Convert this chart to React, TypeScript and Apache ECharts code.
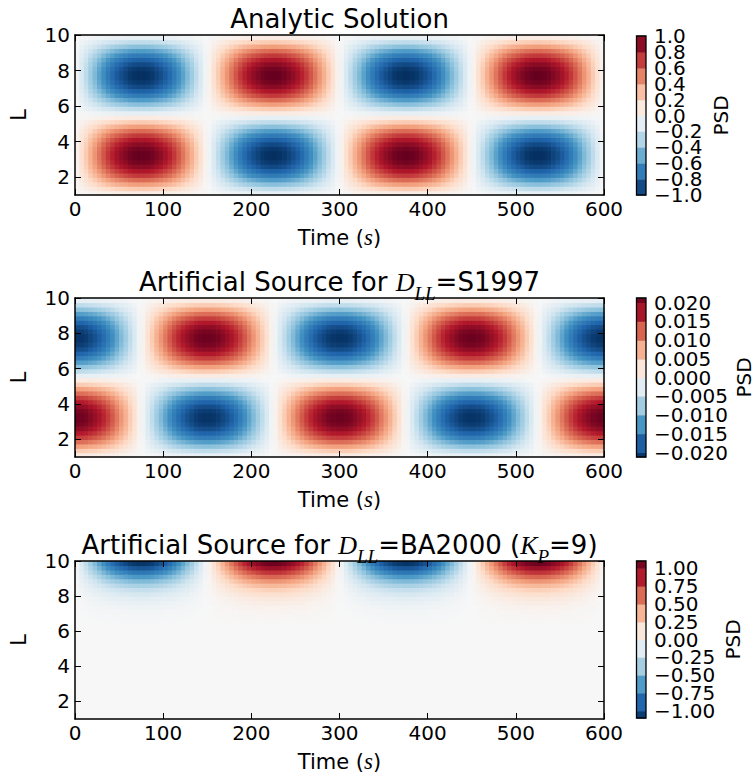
import React, { useEffect, useRef } from "react";
import * as echarts from "echarts";

// ---------------- data ----------------
const timeTicks = [0, 100, 200, 300, 400, 500, 600];
const lTicks = [2, 4, 6, 8, 10];
const timeRange = [0, 600];
const lRange = [1, 10];
const timeStep = 5; // width of one sampled cell, s
const lStep = 0.25; // height of one sampled cell, L

// time profile of the analytic solution (cell centres 2.5, 7.5, ..., 597.5 s)
const analyticTime = [
  0.05, 0.16, 0.26, 0.36, 0.45, 0.54, 0.63, 0.71, 0.78, 0.84, 0.89, 0.93, 0.97, 0.99, 1.00,
  1.00, 0.99, 0.97, 0.93, 0.89, 0.84, 0.78, 0.71, 0.63, 0.54, 0.45, 0.36, 0.26, 0.16, 0.05,
  -0.05, -0.16, -0.26, -0.36, -0.45, -0.54, -0.63, -0.71, -0.78, -0.84, -0.89, -0.93, -0.97, -0.99, -1.00,
  -1.00, -0.99, -0.97, -0.93, -0.89, -0.84, -0.78, -0.71, -0.63, -0.54, -0.45, -0.36, -0.26, -0.16, -0.05,
  0.05, 0.16, 0.26, 0.36, 0.45, 0.54, 0.63, 0.71, 0.78, 0.84, 0.89, 0.93, 0.97, 0.99, 1.00,
  1.00, 0.99, 0.97, 0.93, 0.89, 0.84, 0.78, 0.71, 0.63, 0.54, 0.45, 0.36, 0.26, 0.16, 0.05,
  -0.05, -0.16, -0.26, -0.36, -0.45, -0.54, -0.63, -0.71, -0.78, -0.84, -0.89, -0.93, -0.97, -0.99, -1.00,
  -1.00, -0.99, -0.97, -0.93, -0.89, -0.84, -0.78, -0.71, -0.63, -0.54, -0.45, -0.36, -0.26, -0.16, -0.05,
];
// time profile of the S1997 source
const sourceTime = [
  1.00, 0.99, 0.97, 0.93, 0.89, 0.84, 0.78, 0.71, 0.63, 0.54, 0.45, 0.36, 0.26, 0.16, 0.05,
  -0.05, -0.16, -0.26, -0.36, -0.45, -0.54, -0.63, -0.71, -0.78, -0.84, -0.89, -0.93, -0.97, -0.99, -1.00,
  -1.00, -0.99, -0.97, -0.93, -0.89, -0.84, -0.78, -0.71, -0.63, -0.54, -0.45, -0.36, -0.26, -0.16, -0.05,
  0.05, 0.16, 0.26, 0.36, 0.45, 0.54, 0.63, 0.71, 0.78, 0.84, 0.89, 0.93, 0.97, 0.99, 1.00,
  1.00, 0.99, 0.97, 0.93, 0.89, 0.84, 0.78, 0.71, 0.63, 0.54, 0.45, 0.36, 0.26, 0.16, 0.05,
  -0.05, -0.16, -0.26, -0.36, -0.45, -0.54, -0.63, -0.71, -0.78, -0.84, -0.89, -0.93, -0.97, -0.99, -1.00,
  -1.00, -0.99, -0.97, -0.93, -0.89, -0.84, -0.78, -0.71, -0.63, -0.54, -0.45, -0.36, -0.26, -0.16, -0.05,
  0.05, 0.16, 0.26, 0.36, 0.45, 0.54, 0.63, 0.71, 0.78, 0.84, 0.89, 0.93, 0.97, 0.99, 1.00,
];
// L profile (cell centres 1.125 ... 9.875, bottom to top)
const analyticL = [
  0.09, 0.26, 0.42, 0.57, 0.71, 0.82, 0.91, 0.97, 1.00, 1.00, 0.97, 0.91, 0.82, 0.71, 0.57, 0.42, 0.26, 0.09,
  -0.09, -0.26, -0.42, -0.57, -0.71, -0.82, -0.91, -0.97, -1.00, -1.00, -0.97, -0.91, -0.82, -0.71, -0.57, -0.42, -0.26, -0.09,
];
// L profile of the BA2000 source (concentrated near L = 10)
const edgeL = [
  0, 0, 0, 0, 0, 0, 0, 0, 0, 0, 0, 0, 0, 0, 0, 0, 0, 0, 0, 0, 0, 0,
  0.01, 0.02, 0.03, 0.05, 0.08, 0.12, 0.18, 0.26, 0.36, 0.49, 0.64, 0.80, 0.95, 1.08,
];
const sourceAmplitude = 0.0209;
const edgeAmplitude = -1;

const psdTicks1 = [-1.0, -0.8, -0.6, -0.4, -0.2, 0.0, 0.2, 0.4, 0.6, 0.8, 1.0];
const psdTicks2 = [-0.02, -0.015, -0.01, -0.005, 0.0, 0.005, 0.01, 0.015, 0.02];
const psdTicks3 = [-1.0, -0.75, -0.5, -0.25, 0.0, 0.25, 0.5, 0.75, 1.0];
const psdRange1 = [-1, 1];
const psdRange2 = [-0.0212, 0.0212];
const psdRange3 = [-1.1, 1.1];

// ---------------- styling / layout ----------------
const RDBU_R = [
  "#053061", "#2166ac", "#4393c3", "#92c5de", "#d1e5f0", "#f7f7f7",
  "#fddbc7", "#f4a582", "#d6604d", "#b2182b", "#67001f",
];
const SANS = "DejaVu Sans";
const MATH = "Liberation Serif";
const PLOT_LEFT = 75;
const PLOT_W = 529;
const PLOT_TOPS = [35, 298, 561];
const PLOT_HS = [160, 159, 158];
const CB_LEFT = 636.5;
const CB_W = 9.5;
const CB_TOPS = [36, 298, 561];
const CB_HS = [159, 159, 157];
const CB_LABEL_GAP = 8;
const PSD_X = [721, 744, 733];
const CENTER_X = PLOT_LEFT + PLOT_W / 2;

const richTitle = {
  n: { fontFamily: SANS, fontSize: 26, fill: "#000" },
  m: { fontFamily: MATH, fontStyle: "italic", fontSize: 26, fill: "#000" },
  s: { fontFamily: MATH, fontStyle: "italic", fontSize: 19, fill: "#000", padding: [22, 0, 0, 0] },
};
const titles = [
  "{n|Analytic Solution}",
  "{n|Artificial Source for }{m|D}{s|LL}{n|=S1997}",
  "{n|Artificial Source for }{m|D}{s|LL}{n|=BA2000 (}{m|K}{s|P}{n|=9)}",
];

function buildCells(timeProf: number[], lProf: number[], amp: number) {
  const out: number[][] = [];
  for (let i = 0; i < timeProf.length; i++) {
    const t0 = timeRange[0] + i * timeStep;
    for (let j = 0; j < lProf.length; j++) {
      const l0 = lRange[0] + j * lStep;
      out.push([amp * timeProf[i] * lProf[j], t0, t0 + timeStep, l0, l0 + lStep]);
    }
  }
  return out;
}

function buildBands(ticks: number[], range: number[]) {
  const edges = [range[0], ...ticks.filter((v) => v > range[0] + 1e-9 && v < range[1] - 1e-9), range[1]];
  const out: number[][] = [];
  for (let i = 0; i < edges.length - 1; i++) {
    out.push([(edges[i] + edges[i + 1]) / 2, edges[i], edges[i + 1]]);
  }
  return out;
}

const fmt = (digits: number) => (v: number) =>
  (v < -1e-12 ? "\u2212" : "") + Math.abs(v).toFixed(digits);

export default function App() {
  const ref = useRef<HTMLDivElement>(null);
  useEffect(() => {
    if (!ref.current) return;
    const chart = echarts.init(ref.current, undefined, { renderer: "svg" });

    const panels = [
      { cells: buildCells(analyticTime, analyticL, 1), ticks: psdTicks1, range: psdRange1, digits: 1 },
      { cells: buildCells(sourceTime, analyticL, sourceAmplitude), ticks: psdTicks2, range: psdRange2, digits: 3 },
      { cells: buildCells(analyticTime, edgeL, edgeAmplitude), ticks: psdTicks3, range: psdRange3, digits: 2 },
    ];

    const grid: any[] = [];
    const xAxis: any[] = [];
    const yAxis: any[] = [];
    const series: any[] = [];
    const visualMap: any[] = [];
    const graphic: any[] = [];

    const axisLine = { show: true, onZero: false, lineStyle: { color: "#000", width: 1.5 } };
    const tick = { show: true, inside: true, length: 6, lineStyle: { color: "#000", width: 1 } };
    const lbl = { color: "#000", fontSize: 20, fontFamily: SANS, showMinLabel: true, showMaxLabel: true };

    panels.forEach((p, k) => {
      grid.push({ left: PLOT_LEFT, width: PLOT_W, top: PLOT_TOPS[k], height: PLOT_HS[k] });
      xAxis.push(
        {
          gridIndex: k, type: "value", min: timeRange[0], max: timeRange[1], interval: 100, position: "bottom", z: 10,
          axisLine, axisTick: tick, splitLine: { show: false },
          axisLabel: { ...lbl, margin: 4, customValues: timeTicks },
        },
        {
          gridIndex: k, type: "value", min: timeRange[0], max: timeRange[1], interval: 100, position: "top", z: 10,
          axisLine, axisTick: tick, splitLine: { show: false }, axisLabel: { show: false },
        }
      );
      yAxis.push(
        {
          gridIndex: k, type: "value", min: lRange[0], max: lRange[1], position: "left", z: 10,
          axisLine, axisTick: { ...tick, customValues: lTicks }, splitLine: { show: false },
          axisLabel: { ...lbl, margin: 5, customValues: lTicks },
        },
        {
          gridIndex: k, type: "value", min: lRange[0], max: lRange[1], position: "right", z: 10,
          axisLine, axisTick: { ...tick, customValues: lTicks }, splitLine: { show: false },
          axisLabel: { show: false },
        }
      );
    });
    panels.forEach((p, k) => {
      grid.push({ left: CB_LEFT, width: CB_W, top: CB_TOPS[k], height: CB_HS[k] });
      xAxis.push({ gridIndex: 3 + k, type: "value", min: 0, max: 1, show: false });
      yAxis.push({
        gridIndex: 3 + k, type: "value", min: p.range[0], max: p.range[1], position: "right", show: false,
      });
    });

    // heat maps
    panels.forEach((p, k) => {
      series.push({
        type: "custom",
        xAxisIndex: 2 * k,
        yAxisIndex: 2 * k,
        clip: true,
        silent: true,
        data: p.cells,
        dimensions: ["v", "t0", "t1", "l0", "l1"],
        encode: { x: [1, 2], y: [3, 4] },
        renderItem: (params: any, api: any) => {
          const a = api.coord([api.value(1), api.value(4)]);
          const b = api.coord([api.value(2), api.value(3)]);
          return {
            type: "rect",
            shape: { x: a[0], y: a[1], width: b[0] - a[0] + 0.7, height: b[1] - a[1] + 0.7 },
            style: { fill: api.visual("color") },
          };
        },
      });
    });
    // colour bar bands
    panels.forEach((p, k) => {
      series.push({
        type: "custom",
        xAxisIndex: 6 + k,
        yAxisIndex: 6 + k,
        silent: true,
        data: buildBands(p.ticks, p.range),
        dimensions: ["v", "b0", "b1"],
        encode: { y: [1, 2] },
        renderItem: (params: any, api: any) => {
          const a = api.coord([0, api.value(2)]);
          const b = api.coord([1, api.value(1)]);
          return {
            type: "group",
            children: [
              {
                type: "rect",
                shape: { x: a[0], y: a[1], width: b[0] - a[0], height: b[1] - a[1] + 0.5 },
                style: { fill: api.visual("color") },
              },
              {
                type: "line",
                shape: { x1: a[0], y1: a[1], x2: b[0], y2: a[1] },
                style: { stroke: "rgba(90,90,90,0.55)", lineWidth: 1 },
              },
            ],
          };
        },
      });
      visualMap.push({
        type: "continuous",
        show: false,
        min: p.range[0],
        max: p.range[1],
        dimension: 0,
        seriesIndex: [k, 3 + k],
        inRange: { color: RDBU_R },
      });
    });
    // colour bar tick labels (all of them, overlapping as in the original)
    panels.forEach((p, k) => {
      const f = fmt(p.digits);
      series.push({
        type: "custom",
        xAxisIndex: 6 + k,
        yAxisIndex: 6 + k,
        silent: true,
        z: 5,
        data: p.ticks.map((v) => [v]),
        dimensions: ["v"],
        encode: { y: [0] },
        renderItem: (params: any, api: any) => {
          const v = api.value(0);
          const c = api.coord([1, v]);
          return {
            type: "text",
            x: c[0] + CB_LABEL_GAP,
            y: c[1],
            style: {
              text: f(v),
              font: `20px '${SANS}'`,
              fill: "#000",
              align: "left",
              verticalAlign: "middle",
            },
          };
        },
      });
    });

    // frames of the colour bars, titles and axis names
    panels.forEach((p, k) => {
      graphic.push({
        type: "rect", z: 100, silent: true,
        shape: { x: CB_LEFT, y: CB_TOPS[k], width: CB_W, height: CB_HS[k] },
        style: { fill: "none", stroke: "#000", lineWidth: 1.3 },
      });
      const top = PLOT_TOPS[k];
      const bottom = top + PLOT_HS[k];
      graphic.push({
        type: "text", z: 100, silent: true, x: CENTER_X, y: top - 16,
        style: { text: titles[k], rich: richTitle, align: "center", verticalAlign: "middle", fill: "#000" },
      });
      graphic.push({
        type: "text", z: 100, silent: true, x: CENTER_X, y: bottom + 42.5,
        style: {
          text: "{n|Time (}{m|s}{n|)}",
          rich: {
            n: { fontFamily: SANS, fontSize: 21, fill: "#000" },
            m: { fontFamily: MATH, fontStyle: "italic", fontSize: 23, fill: "#000" },
          },
          align: "center", verticalAlign: "middle", fill: "#000",
        },
      });
      graphic.push({
        type: "text", z: 100, silent: true, x: 19, y: (top + bottom) / 2, rotation: Math.PI / 2,
        style: { text: "L", font: `21px '${SANS}'`, fill: "#000", align: "center", verticalAlign: "middle" },
      });
      graphic.push({
        type: "text", z: 100, silent: true, x: PSD_X[k], y: CB_TOPS[k] + CB_HS[k] / 2, rotation: Math.PI / 2,
        style: { text: "PSD", font: `20px '${SANS}'`, fill: "#000", align: "center", verticalAlign: "middle" },
      });
    });

    chart.setOption({
      animation: false,
      backgroundColor: "#fff",
      textStyle: { fontFamily: SANS },
      grid,
      xAxis,
      yAxis,
      visualMap,
      series,
      graphic,
    });
    return () => chart.dispose();
  }, []);

  return (
    <div
      ref={ref}
      style={{ position: "absolute", left: 0, top: 0, width: 755, height: 773, background: "#fff" }}
    />
  );
}
